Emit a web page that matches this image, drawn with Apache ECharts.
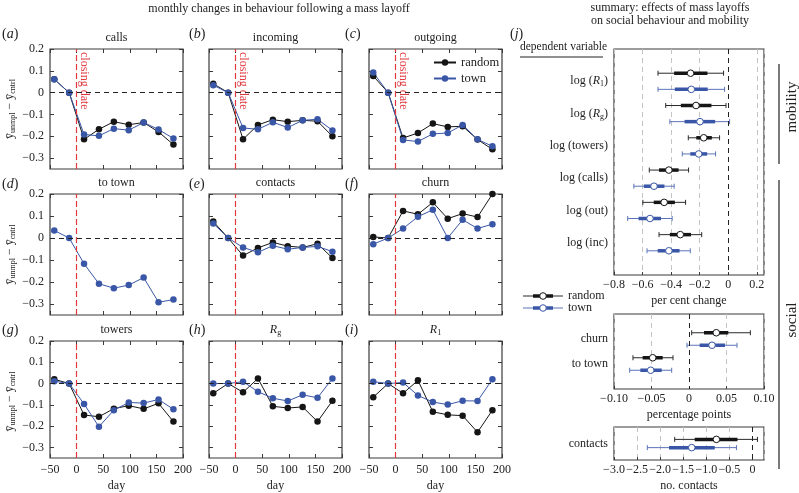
<!DOCTYPE html>
<html>
<head>
<meta charset="utf-8">
<script src="https://cdn.jsdelivr.net/npm/echarts@6/dist/echarts.min.js"></script>
<style>
html,body{margin:0;padding:0;background:#fff}
#main{width:799px;height:493px}
</style>
</head>
<body>
<div id="main"></div>
<script>
// days since closing date (monthly bins)
const days = [-42, -14, 14, 42, 70, 98, 126, 154, 182];

const callsRandom    = [0.061, 0, -0.214, -0.168, -0.133, -0.147, -0.137, -0.180, -0.238];
const callsTown      = [0.061, 0, -0.192, -0.198, -0.165, -0.172, -0.137, -0.169, -0.210];
const incomingRandom = [0.041, 0, -0.214, -0.148, -0.124, -0.133, -0.127, -0.131, -0.200];
const incomingTown   = [0.034, 0, -0.162, -0.168, -0.136, -0.160, -0.127, -0.122, -0.173];
const outgoingRandom = [0.076, 0, -0.208, -0.185, -0.142, -0.157, -0.154, -0.215, -0.260];
const outgoingTown   = [0.092, 0, -0.217, -0.224, -0.189, -0.185, -0.148, -0.214, -0.246];
const toTownTown     = [0.034, 0, -0.117, -0.208, -0.228, -0.214, -0.180, -0.292, -0.280];
const contactsRandom = [0.075, 0, -0.080, -0.045, -0.020, -0.037, -0.043, -0.026, -0.091];
const contactsTown   = [0.066, 0, -0.043, -0.065, -0.035, -0.051, -0.043, -0.038, -0.062];
const churnRandom    = [0.005, 0, 0.123, 0.108, 0.162, 0.088, 0.111, 0.095, 0.200];
const churnTown      = [-0.028, 0, 0.043, 0.097, 0.128, 0.000, 0.083, 0.043, 0.063];
const towersRandom   = [0.020, 0, -0.148, -0.156, -0.118, -0.104, -0.119, -0.093, -0.179];
const towersTown     = [0.011, 0, -0.096, -0.203, -0.125, -0.089, -0.092, -0.075, -0.121];
const rgRandom       = [-0.046, 0, -0.041, 0.024, -0.107, -0.115, -0.110, -0.179, -0.081];
const rgTown         = [0.000, 0, 0.009, -0.038, -0.069, -0.082, -0.053, -0.067, 0.024];
const r1Random       = [-0.064, 0, -0.046, 0.015, -0.133, -0.147, -0.151, -0.229, -0.125];
const r1Town         = [0.009, 0, 0.005, -0.056, -0.087, -0.099, -0.081, -0.082, 0.020];

const yTicks = [-0.3, -0.2, -0.1, 0, 0.1, 0.2];

// summary (j): point estimate, inner (thick) and outer (thin) intervals
const mobVars = ['log (R1)', 'log (Rg)', 'log (towers)', 'log (calls)', 'log (out)', 'log (inc)'];
const mobRandomEst  = [-0.264, -0.226, -0.172, -0.416, -0.449, -0.336];
const mobRandomLo50 = [-0.379, -0.332, -0.224, -0.485, -0.522, -0.409];
const mobRandomHi50 = [-0.146, -0.118, -0.115, -0.348, -0.374, -0.261];
const mobRandomLo95 = [-0.492, -0.438, -0.280, -0.553, -0.598, -0.485];
const mobRandomHi95 = [-0.033, -0.016, -0.061, -0.278, -0.299, -0.186];
const mobTownEst    = [-0.259, -0.198, -0.207, -0.520, -0.548, -0.416];
const mobTownLo50   = [-0.374, -0.306, -0.266, -0.591, -0.628, -0.494];
const mobTownHi50   = [-0.144, -0.092, -0.148, -0.447, -0.471, -0.341];
const mobTownLo95   = [-0.492, -0.409, -0.322, -0.661, -0.704, -0.569];
const mobTownHi95   = [-0.026, 0.009, -0.089, -0.379, -0.393, -0.266];

const socVars = ['churn', 'to town'];
const socRandomEst  = [0.0364, -0.0484];
const socRandomLo50 = [0.0200, -0.0618];
const socRandomHi50 = [0.0524, -0.0351];
const socRandomLo95 = [0.0036, -0.0747];
const socRandomHi95 = [0.0818, -0.0213];
const socTownEst    = [0.0307, -0.0511];
const socTownLo50   = [0.0142, -0.0649];
const socTownHi50   = [0.0480, -0.0364];
const socTownLo95   = [-0.0027, -0.0791];
const socTownHi95   = [0.0640, -0.0231];

const conVars = ['contacts'];
const conRandomEst  = [-0.781];
const conRandomLo50 = [-1.251];
const conRandomHi50 = [-0.325];
const conRandomLo95 = [-1.685];
const conRandomHi95 = [0.108];
const conTownEst    = [-1.316];
const conTownLo50   = [-1.808];
const conTownHi50   = [-0.817];
const conTownLo95   = [-2.278];
const conTownHi95   = [-0.347];

const SERIF = '"Liberation Serif","DejaVu Serif",serif';
const BLACK = '#151515';
const BLUE = '#3a57a7';
const RED = '#e2393f';

const panels = [
  {tag: 'a', title: 'calls', random: callsRandom, town: callsTown},
  {tag: 'b', title: 'incoming', random: incomingRandom, town: incomingTown},
  {tag: 'c', title: 'outgoing', random: outgoingRandom, town: outgoingTown},
  {tag: 'd', title: 'to town', random: null, town: toTownTown},
  {tag: 'e', title: 'contacts', random: contactsRandom, town: contactsTown},
  {tag: 'f', title: 'churn', random: churnRandom, town: churnTown},
  {tag: 'g', title: 'towers', random: towersRandom, town: towersTown},
  {tag: 'h', title: '{i|R}{sub|g}', random: rgRandom, town: rgTown},
  {tag: 'i', title: '{i|R}{sub|1}', random: r1Random, town: r1Town}
];

const colLeft = [50, 209, 369];
const colW = 133;
const rowTop = [49, 194, 341];
const rowH = [120, 121, 121];

const minus = v => (v < 0 ? '\u2212' : '') + Math.abs(v);
const fmt = d => v => v === 0 ? '0' : (v < 0 ? '\u2212' : '') + Math.abs(v).toFixed(d);

const grid = [], xAxis = [], yAxis = [], series = [];
const richBase = {
  n: {fontFamily: SERIF, fontSize: 12, color: '#222'},
  i: {fontFamily: SERIF, fontSize: 12, fontStyle: 'italic', color: '#222'},
  sub: {fontFamily: SERIF, fontSize: 8, color: '#222', verticalAlign: 'bottom', padding: [6, 0, 0, 0]}
};
const noLine = {show: false, onZero: false};

panels.forEach((p, k) => {
  const r = Math.floor(k / 3), c = k % 3;
  grid.push({left: colLeft[c], top: rowTop[r], width: colW, height: rowH[r],
    show: true, borderColor: '#3a3a3a', borderWidth: 1.2, backgroundColor: 'transparent'});
  const tick = {inside: true, length: 4, lineStyle: {color: '#3a3a3a'}};
  xAxis.push({gridIndex: k, type: 'value', min: -50, max: 200, interval: 50,
    axisLine: noLine, splitLine: {show: false}, axisTick: tick,
    axisLabel: {show: r === 2, formatter: minus, fontFamily: SERIF, fontSize: 12, color: '#222', margin: 6},
    name: r === 2 ? 'day' : '', nameLocation: 'middle', nameGap: 22,
    nameTextStyle: {fontFamily: SERIF, fontSize: 12, color: '#222'}});
  xAxis.push({gridIndex: k, type: 'value', position: 'top', min: -50, max: 200, interval: 50,
    axisLine: noLine, splitLine: {show: false}, axisTick: tick, axisLabel: {show: false}});
  yAxis.push({gridIndex: k, type: 'value', min: -0.35, max: 0.2,
    axisLine: noLine, splitLine: {show: false},
    axisTick: Object.assign({customValues: yTicks}, tick),
    axisLabel: {show: c === 0, customValues: yTicks, formatter: fmt(1),
      fontFamily: SERIF, fontSize: 12, color: '#222', margin: 6}});
  yAxis.push({gridIndex: k, type: 'value', position: 'right', min: -0.35, max: 0.2,
    axisLine: noLine, splitLine: {show: false},
    axisTick: Object.assign({customValues: yTicks}, tick), axisLabel: {show: false}});

  const mk = {
    silent: true, symbol: 'none', animation: false, label: {show: false},
    data: [
      {xAxis: 0, lineStyle: {color: RED, type: [6, 3], width: 1.2}},
      {yAxis: 0, lineStyle: {color: '#222', type: [5, 4], width: 1}}
    ]
  };
  if (p.random) {
    series.push({name: 'random', type: 'line', xAxisIndex: 2 * k, yAxisIndex: 2 * k,
      data: days.map((d, i) => [d, p.random[i]]), symbol: 'circle', symbolSize: 6.5,
      color: BLACK, lineStyle: {width: 1}, markLine: mk});
  }
  series.push({name: 'town', type: 'line', xAxisIndex: 2 * k, yAxisIndex: 2 * k,
    data: days.map((d, i) => [d, p.town[i]]), symbol: 'circle', symbolSize: 6.5,
    color: BLUE, lineStyle: {width: 1}, markLine: p.random ? undefined : mk});
});

// summary panels (j)
const sumGrids = [
  {top: 49, height: 226, vars: mobVars, min: -0.8, max: 0.25, interval: 0.2, dec: 1, name: 'per cent change',
   random: [mobRandomLo95, mobRandomLo50, mobRandomEst, mobRandomHi50, mobRandomHi95],
   town: [mobTownLo95, mobTownLo50, mobTownEst, mobTownHi50, mobTownHi95]},
  {top: 314, height: 75, vars: socVars, min: -0.1, max: 0.1, interval: 0.05, dec: 2, name: 'percentage points',
   random: [socRandomLo95, socRandomLo50, socRandomEst, socRandomHi50, socRandomHi95],
   town: [socTownLo95, socTownLo50, socTownEst, socTownHi50, socTownHi95]},
  {top: 427, height: 37, vars: conVars, min: -3, max: 0.25, interval: 0.5, dec: 1, name: 'no. contacts',
   random: [conRandomLo95, conRandomLo50, conRandomEst, conRandomHi50, conRandomHi95],
   town: [conTownLo95, conTownLo50, conTownEst, conTownHi50, conTownHi95]}
];

function varLabel(s) {
  const m = s.match(/^log \(R(.)\)$/);
  if (m) return '{n|log (}{i|R}{sub|' + m[1] + '}{n|)}';
  return '{n|' + s + '}';
}

function renderBar(params, api) {
  const yv = api.value(5);
  const pt = j => api.coord([api.value(j), yv]);
  const a = pt(0), b = pt(1), c = pt(2), d = pt(3), e = pt(4);
  const col = api.visual('color');
  const thin = params.seriesName.indexOf('town') >= 0 ? '#5b74b9' : '#2a2a2a';
  const cap = 2.5;
  return {type: 'group', children: [
    {type: 'line', shape: {x1: a[0], y1: a[1], x2: e[0], y2: e[1]}, style: {stroke: thin, lineWidth: 1}},
    {type: 'line', shape: {x1: a[0], y1: a[1] - cap, x2: a[0], y2: a[1] + cap}, style: {stroke: thin, lineWidth: 1}},
    {type: 'line', shape: {x1: e[0], y1: e[1] - cap, x2: e[0], y2: e[1] + cap}, style: {stroke: thin, lineWidth: 1}},
    {type: 'line', shape: {x1: b[0], y1: b[1], x2: d[0], y2: d[1]}, style: {stroke: col, lineWidth: 3.5}},
    {type: 'circle', shape: {cx: c[0], cy: c[1], r: 3.3}, style: {fill: '#fff', stroke: col, lineWidth: 1}}
  ]};
}

sumGrids.forEach((g, j) => {
  const gi = 9 + j, ai = 18 + j;
  const n = g.vars.length;
  grid.push({left: 614, top: g.top, width: 150, height: g.height,
    show: true, borderColor: '#3a3a3a', borderWidth: 1.2, backgroundColor: 'transparent'});
  xAxis.push({gridIndex: gi, type: 'value', min: g.min, max: g.max, interval: g.interval,
    axisLine: noLine,
    splitLine: {show: true, lineStyle: {color: '#c4c4c4', type: [5, 4], width: 1}},
    axisTick: {inside: true, length: 3, lineStyle: {color: '#3a3a3a'}},
    axisLabel: {formatter: fmt(g.dec), showMaxLabel: g.max === 0.1,
      fontFamily: SERIF, fontSize: 12, color: '#222', margin: 4},
    name: g.name, nameLocation: 'middle', nameGap: 20,
    nameTextStyle: {fontFamily: SERIF, fontSize: 12, color: '#222'}});
  const vals = g.vars.map((v, i) => i + 1);
  yAxis.push({gridIndex: gi, type: 'value', min: 0, max: n + 1, inverse: true,
    axisLine: noLine, splitLine: {show: false}, axisTick: {show: false},
    axisLabel: {customValues: vals, formatter: v => varLabel(g.vars[v - 1]), rich: richBase, margin: 6}});
  ['random', 'town'].forEach((who, w) => {
    const arr = g[who];
    series.push({name: 'summary ' + who, type: 'custom', xAxisIndex: ai, yAxisIndex: ai,
      color: w === 0 ? BLACK : BLUE, renderItem: renderBar,
      encode: {x: [0, 1, 2, 3, 4], y: 5},
      data: g.vars.map((v, i) => [arr[0][i], arr[1][i], arr[2][i], arr[3][i], arr[4][i], i + 1 + (w === 0 ? -0.25 : 0.25)]),
      markLine: w === 0 ? {silent: true, symbol: 'none', animation: false, label: {show: false},
        data: [{xAxis: 0, lineStyle: {color: '#222', type: [5, 4], width: 1}}]} : undefined
    });
  });
});

const txt = (x, y, text, extra, rotation) => ({type: 'text', x, y, silent: true, rotation: rotation || 0,
  style: Object.assign({text, fontFamily: SERIF, fontSize: 12, fill: '#222',
    align: 'center', verticalAlign: 'middle'}, extra || {})});

const graphic = [];
graphic.push(txt(279, 9, 'monthly changes in behaviour following a mass layoff'));
graphic.push(txt(670, 8, 'summary: effects of mass layoffs'));
graphic.push(txt(670, 21, 'on social behaviour and mobility'));

const letterRich = {n: {fontFamily: SERIF, fontSize: 14, color: '#222'}, i: {fontFamily: SERIF, fontSize: 14, fontStyle: 'italic', color: '#222'}};
const letterX = [2, 189, 345];
const letterY = [34, 184, 330];
panels.forEach((p, k) => {
  const r = Math.floor(k / 3), c = k % 3;
  graphic.push(txt(letterX[c], letterY[r], '{n|(}{i|' + p.tag + '}{n|)}', {align: 'left', rich: letterRich}));
  const title = p.title.indexOf('{') >= 0 ? p.title : '{n|' + p.title + '}';
  graphic.push(txt(colLeft[c] + colW / 2, rowTop[r] - 11, title, {rich: richBase}));
});

rowTop.forEach((t, r) => {
  graphic.push(txt(10, t + rowH[r] / 2, '{n|\u0233}{sub|unmpl}{n| \u2212 \u0233}{sub|cntrl}',
    {rich: richBase}, Math.PI / 2));
});

graphic.push(txt(510, 34, '{n|(}{i|j}{n|)}', {align: 'left', rich: letterRich}));
graphic.push(txt(520, 47, 'dependent variable', {align: 'left', fontSize: 11.5}));
graphic.push({type: 'line', silent: true, shape: {x1: 520, y1: 57, x2: 603, y2: 57}, style: {stroke: '#222', lineWidth: 1.2}});

// legend for (j)
[['random', BLACK, '#2a2a2a', 296], ['town', BLUE, '#5b74b9', 308]].forEach(([name, col, thin, y]) => {
  graphic.push({type: 'line', silent: true, shape: {x1: 523, y1: y, x2: 563, y2: y}, style: {stroke: thin, lineWidth: 1}});
  graphic.push({type: 'line', silent: true, shape: {x1: 533, y1: y, x2: 553, y2: y}, style: {stroke: col, lineWidth: 3.5}});
  graphic.push({type: 'circle', silent: true, shape: {cx: 543, cy: y, r: 3.3}, style: {fill: '#fff', stroke: col, lineWidth: 1}});
  graphic.push(txt(568, y, name, {align: 'left'}));
});

graphic.push({type: 'line', silent: true, shape: {x1: 779, y1: 64, x2: 779, y2: 164}, style: {stroke: '#222', lineWidth: 1.2}});
graphic.push({type: 'line', silent: true, shape: {x1: 779, y1: 180, x2: 779, y2: 469}, style: {stroke: '#222', lineWidth: 1.2}});
graphic.push(txt(792, 107, 'mobility', {fontSize: 15}, Math.PI / 2));
graphic.push(txt(792, 320, 'social', {fontSize: 15}, Math.PI / 2));

const chart = echarts.init(document.getElementById('main'));
chart.setOption({
  animation: false,
  backgroundColor: '#fff',
  legend: {left: 428, top: 51, orient: 'vertical', itemWidth: 22, itemHeight: 8, itemGap: 3,
    data: ['random', 'town'], textStyle: {fontFamily: SERIF, fontSize: 12.5, color: '#222'}},
  grid, xAxis, yAxis, series, graphic
});

// "closing date" labels next to the red line in the top row
const extra = [];
for (let k = 0; k < 3; k++) {
  const px = chart.convertToPixel({xAxisIndex: 2 * k, yAxisIndex: 2 * k}, [0, 0.2]);
  extra.push(txt(px[0] + 8, px[1] + 3, 'closing date', {align: 'left', fill: RED}, -Math.PI / 2));
}
chart.setOption({graphic: graphic.concat(extra)}, {replaceMerge: ['graphic']});
</script>
</body>
</html>
